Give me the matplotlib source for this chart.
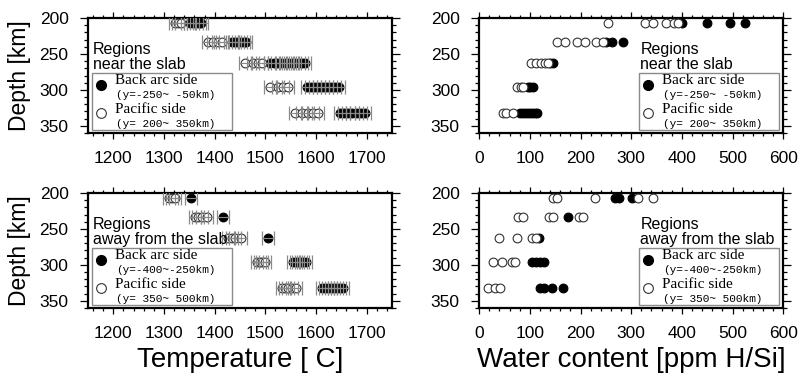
import matplotlib.pyplot as plt
from matplotlib.patches import Rectangle
from matplotlib.ticker import MultipleLocator

# depth of each row of points [km]
depths = [207, 233, 263, 296, 332]

# temperature, regions near the slab
near_T_back = [[1352, 1358, 1364, 1370, 1374],
               [1434, 1440, 1446, 1452, 1458, 1461],
               [1510, 1517, 1524, 1531, 1538, 1545, 1552, 1559, 1566, 1573, 1578],
               [1582, 1590, 1598, 1606, 1614, 1622, 1630, 1638, 1646],
               [1648, 1656, 1664, 1672, 1680, 1688, 1696]]
near_T_pac = [[1322, 1328, 1334],
              [1387, 1397, 1407, 1414],
              [1460, 1476, 1485, 1493],
              [1509, 1525, 1535, 1545],
              [1558, 1572, 1584, 1594, 1604]]

# temperature, regions away from the slab
away_T_back = [[1353],
               [1416],
               [1505],
               [1555, 1560, 1565, 1570, 1575, 1580],
               [1612, 1618, 1624, 1630, 1636, 1642, 1648, 1653]]
away_T_pac = [[1310, 1316, 1321],
              [1361, 1367, 1375, 1385],
              [1426, 1434, 1440, 1452],
              [1483, 1489, 1493, 1500],
              [1533, 1539, 1545, 1553, 1560]]

# water content, regions near the slab
near_W_back = [[400, 450, 495, 525],
               [250, 262, 283],
               [140, 145],
               [97, 101, 106],
               [81, 87, 93, 99, 105, 110, 115]]
near_W_pac = [[255, 328, 344, 368, 385, 393],
              [153, 169, 193, 209, 230, 245],
              [103, 112, 122, 130, 136],
              [75, 82, 87],
              [47, 53, 66]]

# water content, regions away from the slab
away_W_back = [[268, 275, 302],
               [176],
               [119],
               [104, 112, 120, 128],
               [120, 128, 144, 166]]
away_W_pac = [[146, 154, 229, 314, 343],
              [77, 86, 138, 146, 196, 204],
              [39, 75, 104, 113],
              [28, 45, 65, 71],
              [18, 32, 41]]

T_err = 12

SANS = 'Liberation Sans'
SERIF = 'Liberation Serif'
MONO = 'Liberation Mono'


def flat(rows):
    xs, ys = [], []
    for d, row in zip(depths, rows):
        xs += row
        ys += [d] * len(row)
    return xs, ys


def setup(ax, xlim, xlabel=None, ylabel=None):
    ax.set_xlim(*xlim)
    ax.set_ylim(360, 200)
    ax.set_yticks([200, 250, 300, 350])
    ax.xaxis.set_major_locator(MultipleLocator(100))
    ax.xaxis.set_minor_locator(MultipleLocator(20))
    ax.yaxis.set_minor_locator(MultipleLocator(10))
    ax.tick_params(which='both', direction='out', top=True, right=True, width=0.9)
    ax.tick_params(axis='x', which='major', length=4, pad=9, labelsize=12.5)
    ax.tick_params(axis='x', which='minor', length=2)
    ax.tick_params(axis='y', which='major', length=6, pad=8, labelsize=12.5)
    ax.tick_params(axis='y', which='minor', length=3)
    for lab in ax.get_xticklabels() + ax.get_yticklabels():
        lab.set_family(SANS)
    for s in ax.spines.values():
        s.set_linewidth(1.6)
    if xlabel:
        ax.set_xlabel(xlabel, fontsize=20, family=SANS, labelpad=4)
    if ylabel:
        ax.set_ylabel(ylabel, fontsize=16.5, family=SANS, labelpad=6)


def draw(ax, back, pac, err):
    bx, by = flat(back)
    px, py = flat(pac)
    ax.plot(bx, by, 'o', ms=6.3, mfc='black', mec='black', mew=0.8, ls='none', zorder=3)
    ax.plot(px, py, 'o', ms=6.3, mfc='white', mec='#333333', mew=0.8, ls='none', zorder=4)
    if err:
        ax.errorbar(bx + px, by + py, xerr=err, fmt='none', ecolor='#8a8a8a',
                    elinewidth=0.8, capsize=5, capthick=0.9, zorder=5)


def legend(ax, x0, title2, back_txt, pac_txt):
    ax.text(x0 + 0.004, 0.533, 'Regions\n' + title2, transform=ax.transAxes,
            fontsize=11.5, family=SANS, va='bottom', ha='left', linespacing=0.95,
            zorder=6)
    ax.add_patch(Rectangle((x0, 0.03), 0.46, 0.495, transform=ax.transAxes,
                           facecolor='white', edgecolor='#8a8a8a', lw=1, zorder=6))
    ax.plot([x0 + 0.03], [0.42], 'o', ms=7, mfc='black', mec='black',
            transform=ax.transAxes, zorder=7, clip_on=False)
    ax.plot([x0 + 0.03], [0.175], 'o', ms=7, mfc='white', mec='#333333', mew=0.8,
            transform=ax.transAxes, zorder=7, clip_on=False)
    ax.text(x0 + 0.076, 0.455, 'Back arc side', transform=ax.transAxes,
            fontsize=11, family=SERIF, va='center', zorder=7)
    ax.text(x0 + 0.079, 0.330, back_txt, transform=ax.transAxes,
            fontsize=8, family=MONO, va='center', zorder=7)
    ax.text(x0 + 0.076, 0.205, 'Pacific side', transform=ax.transAxes,
            fontsize=11, family=SERIF, va='center', zorder=7)
    ax.text(x0 + 0.079, 0.080, pac_txt, transform=ax.transAxes,
            fontsize=8, family=MONO, va='center', zorder=7)


fig = plt.figure(figsize=(8, 3.8), dpi=100)
ax1 = fig.add_axes([0.11, 0.65, 0.38, 0.3026])
ax2 = fig.add_axes([0.599, 0.65, 0.38, 0.3026])
ax3 = fig.add_axes([0.11, 0.1895, 0.38, 0.3026])
ax4 = fig.add_axes([0.599, 0.1895, 0.38, 0.3026])

draw(ax1, near_T_back, near_T_pac, T_err)
draw(ax2, near_W_back, near_W_pac, None)
draw(ax3, away_T_back, away_T_pac, T_err)
draw(ax4, away_W_back, away_W_pac, None)

setup(ax1, (1150, 1750), ylabel='Depth [km]')
setup(ax2, (0, 600))
setup(ax3, (1150, 1750), xlabel='Temperature [ C]', ylabel='Depth [km]')
setup(ax4, (0, 600), xlabel='Water content [ppm H/Si]')

legend(ax1, 0.013, 'near the slab', '(y=-250~ -50km)', '(y= 200~ 350km)')
legend(ax2, 0.526, 'near the slab', '(y=-250~ -50km)', '(y= 200~ 350km)')
legend(ax3, 0.013, 'away from the slab', '(y=-400~-250km)', '(y= 350~ 500km)')
legend(ax4, 0.526, 'away from the slab', '(y=-400~-250km)', '(y= 350~ 500km)')

fig.savefig('out.png', dpi=100)
